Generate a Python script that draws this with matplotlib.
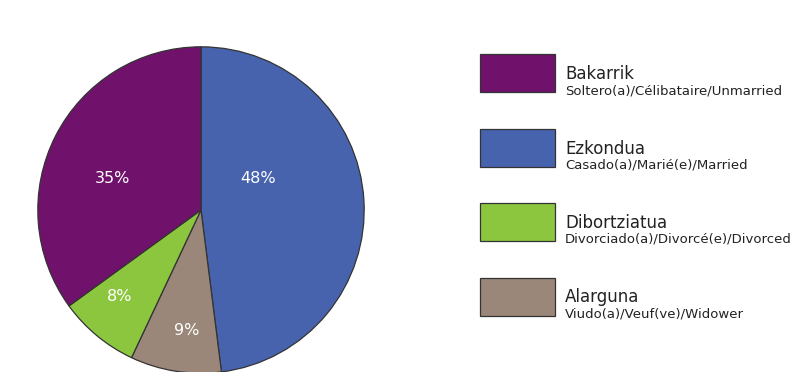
import matplotlib.pyplot as plt
from matplotlib.patches import Rectangle

# legend order
names = ['Bakarrik', 'Ezkondua', 'Dibortziatua', 'Alarguna']
subnames = ['Soltero(a)/Célibataire/Unmarried',
            'Casado(a)/Marié(e)/Married',
            'Divorciado(a)/Divorcé(e)/Divorced',
            'Viudo(a)/Veuf(ve)/Widower']
shares = [35, 48, 8, 9]
colors = ['#70126C', '#4863AE', '#8CC63F', '#9B8779']

# clockwise from 12 o'clock
pie_order = [1, 3, 2, 0]
# label spots inside the pie, in radius units (Excel "best fit" look)
label_pos = {0: (-0.54, 0.195), 1: (0.35, 0.195), 2: (-0.50, -0.53), 3: (-0.085, -0.74)}

W, H = 811, 372
fig = plt.figure(figsize=(W / 100, H / 100), dpi=100)

# pie: centre (201, 210) px from top, radius 164 px
cx, cy, r = 201, 210, 164
ax = fig.add_axes([(cx - r) / W, (H - cy - r) / H, 2 * r / W, 2 * r / H])
wedges, _ = ax.pie([shares[i] for i in pie_order],
                   colors=[colors[i] for i in pie_order],
                   startangle=90, counterclock=False, radius=1,
                   wedgeprops=dict(edgecolor='#333333', linewidth=0.9))
for i in pie_order:
    x, y = label_pos[i]
    ax.text(x, y, f'{shares[i]}%', color='white', fontsize=11.5,
            ha='center', va='center')
ax.set_xlim(-1.005, 1.005)
ax.set_ylim(-1.005, 1.005)
ax.set_aspect('equal')
ax.axis('off')

# legend drawn by hand
box_x, box_w, box_h = 480, 75, 38
top0, step = 54, 74.5
for k, name in enumerate(names):
    top = top0 + k * step
    fig.patches.append(Rectangle((box_x / W, (H - top - box_h) / H), box_w / W, box_h / H,
                                 transform=fig.transFigure, facecolor=colors[k],
                                 edgecolor='#333333', linewidth=0.9))
    fig.text(565 / W, (H - top - 25) / H, name, fontsize=12, color='#222222',
             ha='left', va='baseline')
    fig.text(565 / W, (H - top - 40) / H, subnames[k], fontsize=9.5, color='#222222',
             ha='left', va='baseline')

fig.savefig('out.png', dpi=100)
